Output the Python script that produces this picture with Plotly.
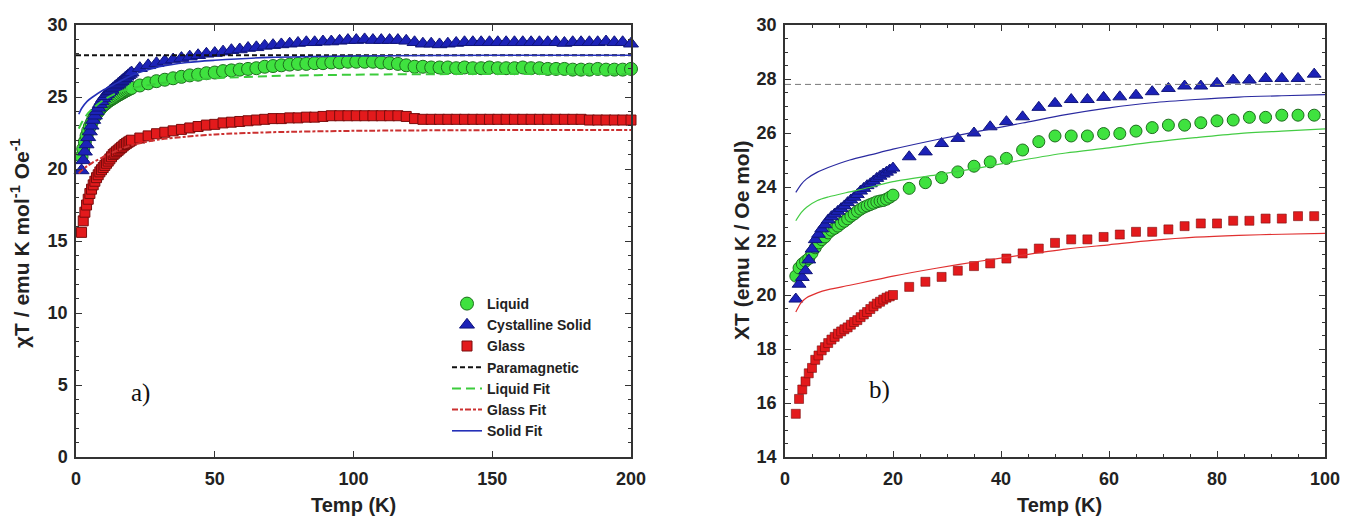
import plotly.graph_objects as go

# ---------------- data ----------------
T_LOW = [2.0, 2.6, 3.2, 3.8, 4.4, 5.0, 5.6, 6.2, 6.8, 7.4, 8.0, 8.6, 9.2, 9.8, 10.4,
         11.0, 11.6, 12.2, 12.8, 13.4, 14.0, 14.6, 15.2, 15.8, 16.4, 17.0, 17.6, 18.2,
         18.8, 19.4, 20.0]
T_HIGH_A = [23, 26, 29, 32, 35, 38, 41, 44, 47, 50, 53, 56, 59, 62, 65, 68, 71, 74, 77, 80,
            83, 86, 89, 92, 95, 98, 101, 104, 107, 110, 113, 116, 119, 122, 125, 128, 131,
            134, 137, 140, 143, 146, 149, 152, 155, 158, 161, 164, 167, 170, 173, 176, 179,
            182, 185, 188, 191, 194, 197, 200]
T_HIGH_B = [23, 26, 29, 32, 35, 38, 41, 44, 47, 50, 53, 56, 59, 62, 65, 68, 71, 74, 77, 80,
            83, 86, 89, 92, 95, 98]
T_A = T_LOW + T_HIGH_A
T_B = T_LOW + T_HIGH_B

# panel a) measured data
liquid_a = [20.85, 21.4, 21.9, 22.3, 22.65, 22.95, 23.2, 23.45, 23.65, 23.85, 24.0, 24.15,
            24.3, 24.4, 24.5, 24.6, 24.7, 24.78, 24.85, 24.92, 25.0, 25.07, 25.14, 25.2,
            25.27, 25.33, 25.4, 25.46, 25.52, 25.58, 25.63,
            25.8, 25.95, 26.1, 26.2, 26.3, 26.4, 26.5, 26.55, 26.65, 26.7,
            26.8, 26.85, 26.9, 26.95, 27.0, 27.1, 27.15, 27.2, 27.25, 27.3,
            27.3, 27.35, 27.35, 27.4, 27.4, 27.45, 27.45, 27.45, 27.45, 27.4,
            27.35, 27.3, 27.2, 27.1, 27.1, 27.05, 27.05, 27.05, 27.0, 27.05,
            27.0, 27.0, 27.05, 27.0, 27.0, 27.0, 27.05, 27.0, 27.0, 26.95,
            26.95, 26.95, 26.9, 26.9, 26.9, 26.95, 26.9, 26.9, 26.9, 26.95]
solid_a = [19.9, 20.6, 21.2, 21.7, 22.2, 22.6, 23.0, 23.4, 23.7, 24.0, 24.25, 24.5,
           24.7, 24.9, 25.05, 25.2, 25.3, 25.4, 25.5, 25.6, 25.7, 25.8, 25.9, 26.0,
           26.1, 26.2, 26.3, 26.4, 26.5, 26.6, 26.7,
           27.0, 27.2, 27.35, 27.5, 27.6, 27.7, 27.8, 27.9, 28.0, 28.05,
           28.15, 28.25, 28.3, 28.4, 28.45, 28.55, 28.6, 28.65, 28.7, 28.75,
           28.8, 28.8, 28.85, 28.85, 28.9, 28.95, 28.95, 29.0, 28.95, 28.95,
           28.95, 28.95, 28.9, 28.8, 28.7, 28.7, 28.65, 28.7, 28.75, 28.8,
           28.8, 28.8, 28.8, 28.8, 28.8, 28.8, 28.8, 28.8, 28.8, 28.8,
           28.8, 28.75, 28.8, 28.8, 28.8, 28.8, 28.85, 28.8, 28.8, 28.7]
glass_a = [15.6, 16.4, 17.0, 17.5, 17.9, 18.3, 18.6, 18.9, 19.15, 19.4, 19.6, 19.8,
           19.95, 20.1, 20.25, 20.4, 20.55, 20.7, 20.85, 21.0, 21.1, 21.2, 21.3, 21.4,
           21.5, 21.6, 21.7, 21.78, 21.86, 21.93, 22.0,
           22.15, 22.3, 22.45, 22.55, 22.65, 22.75, 22.85, 22.95, 23.05, 23.1,
           23.2, 23.25, 23.3, 23.35, 23.4, 23.45, 23.5, 23.5, 23.55, 23.55,
           23.6, 23.6, 23.65, 23.7, 23.7, 23.7, 23.7, 23.7, 23.7, 23.7,
           23.7, 23.7, 23.65, 23.5, 23.45, 23.45, 23.45, 23.45, 23.45, 23.45,
           23.45, 23.45, 23.45, 23.45, 23.45, 23.45, 23.45, 23.45, 23.45, 23.45,
           23.45, 23.45, 23.45, 23.45, 23.4, 23.4, 23.4, 23.4, 23.4, 23.4]

# panel a) fits
T_FIT_A = [1, 2, 4, 6, 10, 15, 20, 30, 40, 50, 70, 100, 150, 200]
solid_fit_a = [23.8, 24.2, 24.7, 25.0, 25.5, 26.0, 26.5, 27.1, 27.4, 27.55, 27.75, 27.85, 27.9, 27.9]
liquid_fit_a = [22.8, 23.2, 23.8, 24.2, 24.8, 25.3, 25.6, 25.95, 26.15, 26.3, 26.45, 26.55, 26.6, 26.6]
glass_fit_a = [19.7, 19.9, 20.2, 20.45, 20.85, 21.3, 21.65, 22.05, 22.25, 22.4, 22.55, 22.65, 22.7, 22.7]
T_PARA_A = [0, 200]
para_a = [27.9, 27.9]

# panel b) measured data
liquid_b = [20.7, 21.0, 21.15, 21.25, 21.35, 21.55, 21.75, 21.93, 22.05, 22.15, 22.3, 22.4,
            22.47, 22.55, 22.65, 22.73, 22.82, 22.92, 23.0, 23.1, 23.18, 23.25, 23.3, 23.35,
            23.4, 23.45, 23.48, 23.5, 23.55, 23.62, 23.7,
            23.95, 24.16, 24.35, 24.56, 24.77, 24.93, 25.06, 25.37, 25.68, 25.89, 25.89, 25.89,
            25.98, 25.98, 26.07, 26.2, 26.29, 26.29, 26.38, 26.45, 26.48, 26.58, 26.58, 26.66,
            26.66, 26.66]
solid_b = [19.85, 20.4, 20.65, 20.9, 21.3, 21.7, 22.05, 22.25, 22.45, 22.6, 22.78, 22.9,
           23.0, 23.1, 23.2, 23.3, 23.42, 23.52, 23.62, 23.72, 23.85, 23.95, 24.05, 24.12,
           24.22, 24.32, 24.4, 24.48, 24.55, 24.63, 24.7,
           25.12, 25.3, 25.61, 25.8, 26.0, 26.23, 26.42, 26.6, 26.95, 27.1, 27.24, 27.24,
           27.32, 27.34, 27.4, 27.53, 27.65, 27.74, 27.74, 27.84, 27.96, 27.96, 28.02, 28.02,
           28.02, 28.18]
glass_b = [15.6, 16.15, 16.5, 16.8, 17.1, 17.3, 17.6, 17.76, 17.95, 18.07, 18.22, 18.35,
           18.45, 18.57, 18.65, 18.73, 18.8, 18.9, 19.0, 19.07, 19.18, 19.28, 19.37, 19.48,
           19.58, 19.68, 19.75, 19.83, 19.9, 19.95, 20.0,
           20.3, 20.49, 20.67, 20.9, 21.07, 21.17, 21.35, 21.54, 21.72, 21.93, 22.06, 22.06,
           22.15, 22.24, 22.34, 22.34, 22.43, 22.55, 22.65, 22.65, 22.75, 22.75, 22.83, 22.83,
           22.92, 22.92]

# panel b) fits
T_FIT_B = [2, 3, 4, 6, 8, 12, 16, 20, 28, 36, 44, 52, 60, 68, 76, 84, 92, 100]
solid_fit_b = [23.8, 24.1, 24.3, 24.55, 24.72, 25.0, 25.2, 25.4, 25.75, 26.07, 26.37, 26.68,
               26.93, 27.12, 27.24, 27.33, 27.38, 27.42]
liquid_fit_b = [22.75, 23.05, 23.25, 23.5, 23.63, 23.82, 24.0, 24.2, 24.45, 24.71, 25.0, 25.26,
                25.45, 25.66, 25.83, 25.98, 26.07, 26.15]
glass_fit_b = [19.37, 19.72, 19.9, 20.08, 20.2, 20.36, 20.53, 20.7, 20.99, 21.25, 21.48, 21.7,
               21.86, 22.02, 22.14, 22.21, 22.25, 22.28]
T_PARA_B = [0, 100]
para_b = [27.8, 27.8]

# ---------------- styles ----------------
GREEN = "#3fe23f"
GREEN_EDGE = "#1d6e1d"
BLUE = "#1c22b8"
BLUE_EDGE = "#10157a"
RED = "#e31a1c"
RED_EDGE = "#7a0c0c"
FONT = "Liberation Sans, Arial, sans-serif"

fig = go.Figure()

def add_points(x, y, name, symbol, size, color, edge, xa, ya, show, lw=1):
    fig.add_trace(go.Scatter(
        x=x, y=y, mode="markers", name=name, xaxis=xa, yaxis=ya,
        showlegend=show, legendgroup=name, cliponaxis=False,
        marker=dict(symbol=symbol, size=size, color=color,
                    line=dict(color=edge, width=lw))))

def add_line(x, y, name, color, width, dash, xa, ya, show):
    fig.add_trace(go.Scatter(
        x=x, y=y, mode="lines", name=name, xaxis=xa, yaxis=ya,
        showlegend=show, legendgroup=name,
        line=dict(color=color, width=width, dash=dash, shape="spline", smoothing=0.8)))

# panel a
add_points(T_A, glass_a, "Glass", "square", 10, RED, RED_EDGE, "x", "y", True, 1)
add_points(T_A, liquid_a, "Liquid", "circle", 13, GREEN, GREEN_EDGE, "x", "y", True, 1)
add_points(T_A, solid_a, "Cystalline Solid", "triangle-up", 13, BLUE, BLUE_EDGE, "x", "y", True, 1)
add_line(T_PARA_A, para_a, "Paramagnetic", "#111111", 2, "5px,3px", "x", "y", True)
add_line(T_FIT_A, liquid_fit_a, "Liquid Fit", "#3ccc3c", 2, "9px,5px", "x", "y", True)
add_line(T_FIT_A, glass_fit_a, "Glass Fit", "#cc3030", 2, "6px,2px,3px,2px", "x", "y", True)
add_line(T_FIT_A, solid_fit_a, "Solid Fit", "#2430b8", 1.6, "solid", "x", "y", True)

# panel b
add_points(T_B, glass_b, "Glass", "square", 9, RED, RED_EDGE, "x2", "y2", False, 0.6)
add_points(T_B, liquid_b, "Liquid", "circle", 12, GREEN, GREEN_EDGE, "x2", "y2", False, 1)
add_points(T_B, solid_b, "Cystalline Solid", "triangle-up", 12, BLUE, BLUE_EDGE, "x2", "y2", False, 1)
add_line(T_PARA_B, para_b, "Paramagnetic", "#777777", 1, "6px,4px", "x2", "y2", False)
add_line(T_FIT_B, liquid_fit_b, "Liquid Fit", "#44cc44", 1.2, "solid", "x2", "y2", False)
add_line(T_FIT_B, glass_fit_b, "Glass Fit", "#e03030", 1.2, "solid", "x2", "y2", False)
add_line(T_FIT_B, solid_fit_b, "Solid Fit", "#2a2aa0", 1.2, "solid", "x2", "y2", False)

W, H = 1349, 518
def fx(px):
    return px / W
def fy(py):
    return 1 - py / H

tickfont = dict(family=FONT, size=18, color="#222222", weight="bold")
common = dict(showgrid=False, zeroline=False, showline=True, linecolor="#333333",
              linewidth=1.5, mirror="ticks", ticks="inside", ticklen=6, tickwidth=1.2,
              tickcolor="#333333", tickfont=tickfont, automargin=False)

fig.update_layout(
    width=W, height=H,
    margin=dict(l=0, r=0, t=0, b=0),
    paper_bgcolor="white", plot_bgcolor="white",
    xaxis=dict(domain=[fx(76), fx(631)], range=[0, 200], tickvals=[0, 50, 100, 150, 200],
               anchor="y", ticklabelstandoff=5, **common),
    yaxis=dict(domain=[fy(457), fy(25)], range=[0, 30], tickvals=[0, 5, 10, 15, 20, 25, 30],
               anchor="x", ticklabelstandoff=3,
               minor=dict(ticks="inside", ticklen=3, dtick=1, tick0=0, tickcolor="#333333"),
               **common),
    xaxis2=dict(domain=[fx(785), fx(1325)], range=[0, 100], tickvals=[0, 20, 40, 60, 80, 100],
                anchor="y2", ticklabelstandoff=5,
                minor=dict(ticks="inside", ticklen=3, dtick=5, tick0=0, tickcolor="#333333"),
                **common),
    yaxis2=dict(domain=[fy(457), fy(25)], range=[14, 30],
                tickvals=[14, 16, 18, 20, 22, 24, 26, 28, 30], anchor="x2", ticklabelstandoff=3,
                minor=dict(ticks="inside", ticklen=3, dtick=0.5, tick0=14, tickcolor="#333333"),
                **common),
    legend=dict(x=fx(447), y=fy(288), xanchor="left", yanchor="top",
                bgcolor="rgba(255,255,255,0)", borderwidth=0,
                font=dict(family=FONT, size=14, color="#222222", weight="bold"),
                traceorder="normal", tracegroupgap=0, itemsizing="trace"),
)

# legend order
order = ["Liquid", "Cystalline Solid", "Glass", "Paramagnetic", "Liquid Fit", "Glass Fit", "Solid Fit"]
for tr in fig.data:
    if tr.showlegend:
        tr.legendrank = order.index(tr.name) + 1

title_font = dict(family=FONT, size=20, color="#222222", weight="bold")
annos = [
    dict(text="Temp (K)", x=fx(354), y=fy(505), font=title_font),
    dict(text="Temp (K)", x=fx(1059), y=fy(505), font=title_font),
    dict(text="χT / emu K mol<sup>-1</sup> Oe<sup>-1</sup>", x=fx(20), y=fy(243),
         font=dict(family=FONT, size=21, color="#222222", weight="bold"), textangle=-90),
    dict(text="XT (emu K / Oe mol)", x=fx(742), y=fy(240),
         font=dict(family=FONT, size=21, color="#222222", weight="bold"), textangle=-90),
    dict(text="a)", x=fx(140), y=fy(393),
         font=dict(family="Liberation Serif, Times New Roman, serif", size=25, color="#111111")),
    dict(text="b)", x=fx(879), y=fy(390),
         font=dict(family="Liberation Serif, Times New Roman, serif", size=25, color="#111111")),
]
for a in annos:
    fig.add_annotation(xref="paper", yref="paper", showarrow=False,
                       xanchor="center", yanchor="middle", **a)

fig.write_html("out.html")
